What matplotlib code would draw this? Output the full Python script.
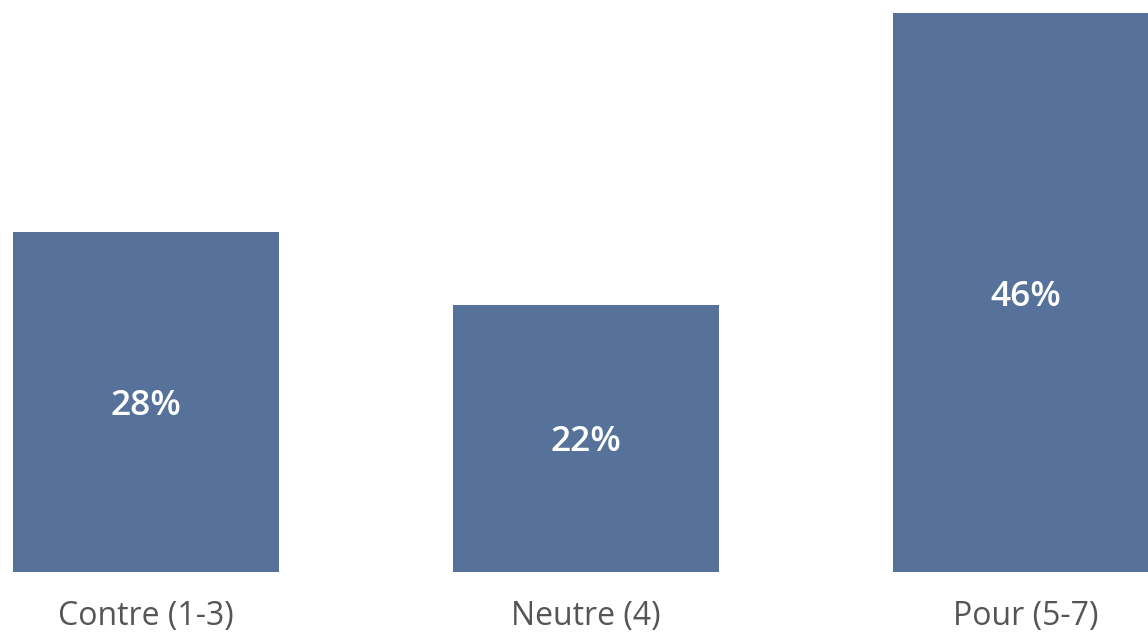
import matplotlib
matplotlib.use("Agg")
import matplotlib.pyplot as plt

categories = ["Contre (1-3)", "Neutre (4)", "Pour (5-7)"]
values = [28, 22, 46]
labels = ["28%", "22%", "46%"]

fig = plt.figure(figsize=(11.48, 6.34), dpi=100)
ax = fig.add_axes([0, 62/634, 1, 572/634])
x = list(range(len(categories)))
bars = ax.bar(x, values, width=0.605, color="#56729a")
ax.set_xlim(-146/440, (1148-146)/440)
ax.set_ylim(0, 572/12.15)
for b, v, l in zip(bars, values, labels):
    ax.text(b.get_x() + b.get_width()/2, v/2, l, ha="center", va="center_baseline",
            color="white", fontsize=25.5, fontweight="semibold", family="Open Sans")
ax.set_xticks(x)
ax.set_xticklabels(categories, fontsize=23, color="#555555", family="Open Sans")
ax.tick_params(axis="x", length=0, pad=20)
ax.set_yticks([])
for s in ax.spines.values():
    s.set_visible(False)
fig.savefig("out.png", dpi=100)
